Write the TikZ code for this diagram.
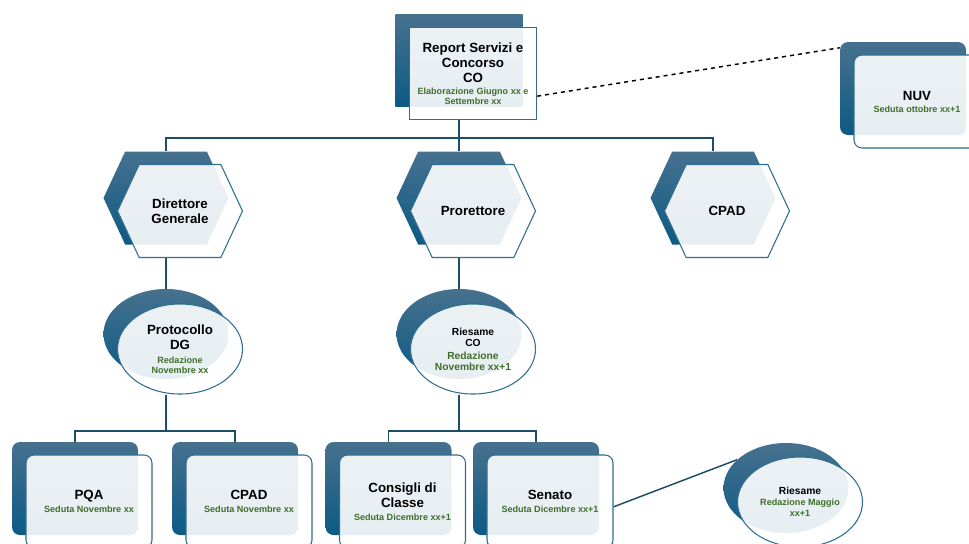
\documentclass[tikz,border=0pt]{standalone}
\usepackage{fontspec}
\setmainfont{Liberation Sans}
\usetikzlibrary{positioning,shapes.geometric,shapes.symbols,backgrounds,calc}
\definecolor{deeptop}{HTML}{47718F}
\definecolor{deepbot}{HTML}{0C5A84}
\definecolor{edge}{HTML}{2F6E8F}
\definecolor{wire}{HTML}{1D4E68}
\definecolor{leaf}{HTML}{3F6E2A}
\newcommand{\dated}{\color{leaf}\fontsize{6.8}{7.8}\selectfont}

\begin{document}
\begin{tikzpicture}[
    x=0.75pt, y=-0.75pt,
    shade/.style={draw=none, top color=deeptop, bottom color=deepbot, inner sep=0pt},
    glass/.style={fill=white, fill opacity=0.9, text opacity=1, draw=edge, line width=0.8pt, inner sep=0pt, align=center, font=\bfseries\fontsize{10}{11.3}\selectfont},
    box/.style={rectangle, rounded corners=6pt, minimum width=94.5pt, minimum height=69.75pt},
    plainbox/.style={rectangle, minimum width=95.5pt, minimum height=69pt},
    hex/.style={signal, signal to=east and west, signal pointer angle=130, minimum width=93.75pt, minimum height=69.75pt},
    oval/.style={ellipse, minimum width=93.75pt, minimum height=67.5pt},
    link/.style={wire, line width=1.1pt}
]
\useasboundingbox (0,0) rectangle (969,543);
\clip (0,0) rectangle (969,543);

% top report and NUV
\node[shade, plainbox] (repback) at (459,60.5) {};
\node[glass, plainbox] (rep) at ([shift={(14,13)}]repback.center) {Report Servizi e\\Concorso\\CO\\[-2.3pt]\dated Elaborazione Giugno xx e\\[-4.3pt]\dated Settembre xx};
\node[shade, box] (nuvback) at (903,88.5) {};
\node[glass, box] (nuv) at ([shift={(14,13)}]nuvback.center) {NUV\\[-2.3pt]\dated Seduta ottobre xx+1};

% second level
\node[shade, hex] (dgback) at (166,198) {};
\node[glass, hex] (dg) at ([shift={(14,13)}]dgback.center) {Direttore\\Generale};
\node[shade, hex] (prback) at (459,198) {};
\node[glass, hex] (pr) at ([shift={(14,13)}]prback.center) {Prorettore};
\node[shade, hex] (cpback) at (713,198) {};
\node[glass, hex] (cp) at ([shift={(14,13)}]cpback.center) {CPAD};

% third level
\node[shade, oval] (protback) at (166,334) {};
\node[glass, oval] (prot) at ([shift={(14,15)}]protback.center) {Protocollo\\DG\\[-1pt]\dated Redazione\\[-3.8pt]\dated Novembre xx};
\node[shade, oval] (rcoback) at (459,334) {};
\node[glass, oval, font=\bfseries\fontsize{7.7}{8.4}\selectfont] (rco) at ([shift={(14,15)}]rcoback.center) {Riesame\\CO\\[1.3pt]\color{leaf}Redazione\\\color{leaf}Novembre xx+1};

% bottom level
\node[shade, box] (pqaback) at (75,488.5) {};
\node[glass, box] (pqa) at ([shift={(14,13)}]pqaback.center) {PQA\\[-1.5pt]\dated Seduta Novembre xx};
\node[shade, box] (cpdback) at (235,488.5) {};
\node[glass, box] (cpd) at ([shift={(14,13)}]cpdback.center) {CPAD\\[-1.5pt]\dated Seduta Novembre xx};
\node[shade, box] (ccback) at (388.5,488.5) {};
\node[glass, box] (cc) at ([shift={(14,13)}]ccback.center) {Consigli di\\Classe\\[-1.8pt]\dated Seduta Dicembre xx+1};
\node[shade, box] (senback) at (536,488.5) {};
\node[glass, box] (sen) at ([shift={(14,13)}]senback.center) {Senato\\[-1.5pt]\dated Seduta Dicembre xx+1};
\node[shade, oval] (rmback) at (786,488) {};
\node[glass, oval] (rm) at ([shift={(14,14)}]rmback.center) {{\fontsize{7.7}{9}\selectfont Riesame}\\[-3pt]\dated Redazione Maggio\\[-3pt]\dated xx+1};

\coordinate (bus1) at (459,138);
\coordinate (bus2) at (166,431);
\coordinate (bus3) at (459,431);

\begin{scope}[on background layer]
\draw[link] (rep.south -| repback) -- (bus1);
\draw[link] (dgback.north) |- (bus1) -| (cpback.north);
\draw[link] (bus1) -- (prback.north);
\draw[link] (dg.south -| dgback) -- (protback.north);
\draw[link] (pr.south -| prback) -- (rcoback.north);
\draw[link] (prot.south -| protback) -- (bus2);
\draw[link] (pqaback.north) |- (bus2) -| (cpdback.north);
\draw[link] (rco.south -| rcoback) -- (bus3);
\draw[link] (ccback.north) |- (bus3) -| (senback.north);
\draw[link] ([yshift=-4pt]sen.east) -- (rmback.150);
\draw[dashed, line width=1.1pt] ([yshift=-17pt]rep.east) -- ([yshift=-4.5pt]nuvback.north west);
\end{scope}

\end{tikzpicture}
\end{document}
